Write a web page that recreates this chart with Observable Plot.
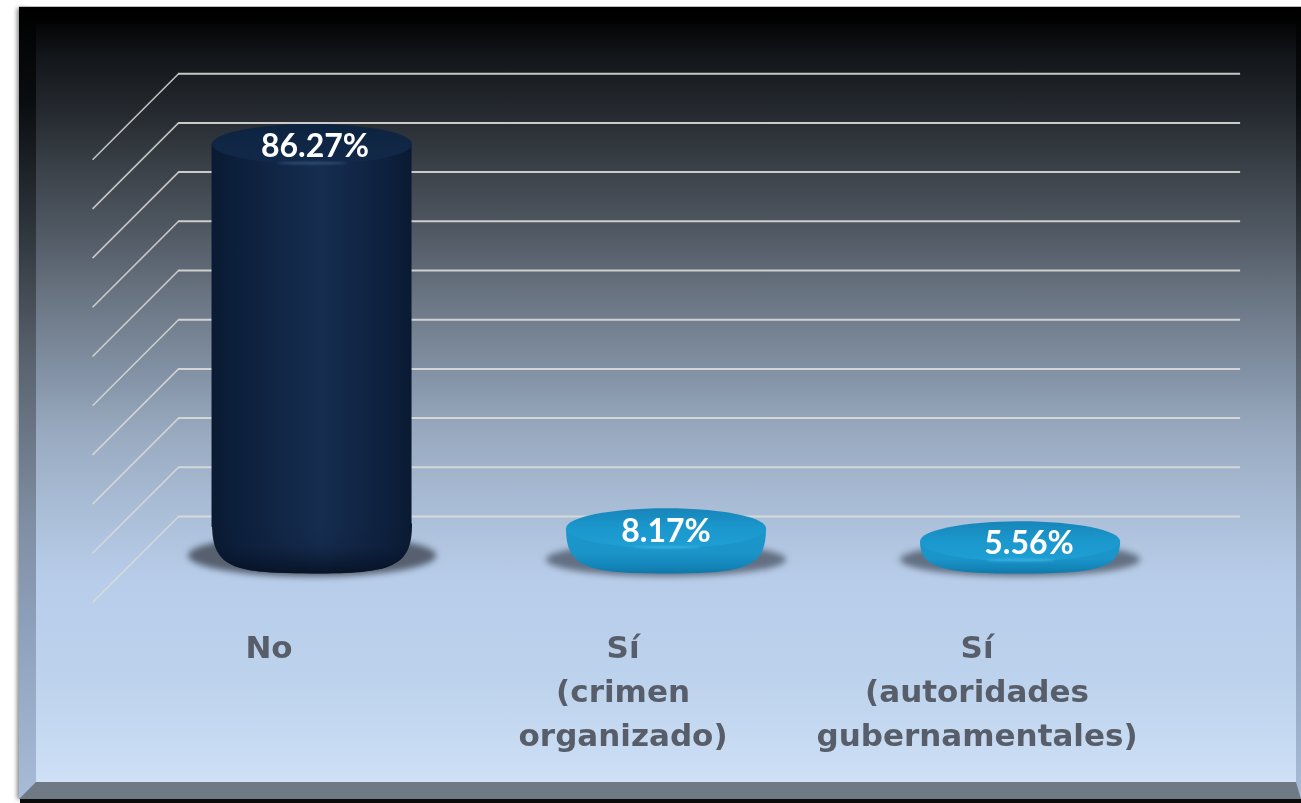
<!DOCTYPE html>
<html lang="es">
<head>
<meta charset="utf-8">
<script src="https://cdn.jsdelivr.net/npm/d3@7"></script>
<script src="https://cdn.jsdelivr.net/npm/@observablehq/plot@0.6"></script>
<style>
html,body{margin:0;padding:0;background:#fff;width:1301px;height:803px;overflow:hidden}
#stage{position:relative;width:1301px;height:803px;overflow:hidden}
#stage svg{position:absolute;left:0;top:0;background:transparent}
.layer{position:absolute}
#shadow{left:17px;top:8px;width:10px;height:791px;background:#888;filter:blur(2px)}
#topline{left:19px;top:6px;width:1282px;height:1px;background:#bdbdbd}
#bevel{left:19px;top:7px;width:1282px;height:792px;
 background:linear-gradient(180deg,#000 0%,#0a0d10 12%,#333a41 30%,#5a6470 45%,#7f8ea2 65%,#8fa3bf 80%,#a8bcd8 100%)}
#panel{left:36px;top:24px;width:1260px;height:758px;
 background:linear-gradient(180deg,#040506 0%,#14181c 4.75%,#282d33 12.7%,#3b4249 19.3%,#505863 27.2%,#6b7684 36.4%,#8190a3 45.6%,#98a9bf 53.6%,#a8bbd4 62.8%,#b8cdea 73.4%,#bdd2ec 86.6%,#cbdef5 98.5%,#d0e1f6 100%)}
#floor{left:19px;top:782px;width:1282px;height:17px;background:#6f7a85;clip-path:polygon(17px 0,1277px 0,1282px 100%,0 100%)}
#strip{left:20px;top:799px;width:1281px;height:4px;background:#0a0a0a}
</style>
</head>
<body>
<div id="stage">
  <div class="layer" id="shadow"></div>
  <div class="layer" id="bevel"></div>
  <div class="layer" id="topline"></div>
  <div class="layer" id="panel"></div>
  <div class="layer" id="floor"></div>
  <div class="layer" id="strip"></div>
</div>
<script>
const categories = ["No", "Sí\n(crimen\norganizado)", "Sí\n(autoridades\ngubernamentales)"];
const values = [86.27, 8.17, 5.56];
const valueLabels = ["86.27%", "8.17%", "5.56%"];
const gridValues = [0, 10, 20, 30, 40, 50, 60, 70, 80, 90];

const rows = categories.map((c, i) => ({i, category: c, value: values[i], label: valueLabels[i]}));
const base = 3.05;        // the floor of the 3-D box, in value units
const back = 10.57;       // rear wall offset of the grid, in value units
const front = -6.91;      // front edge of the side wall, in value units
const halfBar = 0.2825;   // half a cylinder, in category units
const wallX = -0.377, edgeX = -0.62, endX = 2.623;
const pxPerUnit = 4.92;
const bowlTop = 30;       // height of the rounded foot of the tall cylinder

const ellipse = (ratio) => ({
  draw(ctx, size) {
    const rx = Math.sqrt(size / Math.PI), ry = rx * ratio, k = 0.5522848;
    ctx.moveTo(-rx, 0);
    ctx.bezierCurveTo(-rx, -ry * k, -rx * k, -ry, 0, -ry);
    ctx.bezierCurveTo(rx * k, -ry, rx, -ry * k, rx, 0);
    ctx.bezierCurveTo(rx, ry * k, rx * k, ry, 0, ry);
    ctx.bezierCurveTo(-rx * k, ry, -rx, ry * k, -rx, 0);
    ctx.closePath();
  }
});
// rounded foot of a cylinder: vertical sides that turn under into the front rim
const bowl = (ratio, shoulder) => ({
  draw(ctx, size) {
    const rx = Math.sqrt(size / Math.PI), ry = rx * ratio;
    ctx.moveTo(-rx, -shoulder);
    ctx.bezierCurveTo(-rx, ry * 0.7, -rx * 0.8, ry, 0, ry);
    ctx.bezierCurveTo(rx * 0.8, ry, rx, ry * 0.7, rx, -shoulder);
    ctx.closePath();
  }
});

function gradient(defs, id, horizontal, stops) {
  const g = defs.append("svg:linearGradient").attr("id", id)
    .attr("x1", 0).attr("y1", 0).attr("x2", horizontal ? 1 : 0).attr("y2", horizontal ? 0 : 1);
  stops.forEach(([o, c, a = 1]) => g.append("svg:stop").attr("offset", o).attr("stop-color", c).attr("stop-opacity", a));
}
const defsMark = () => {
  const defs = d3.create("svg:defs");
  gradient(defs, "cyl", true, [[0, "#0a1a32"], [0.12, "#0c1f3b"], [0.55, "#162d50"], [0.88, "#0d203d"], [1, "#0a1a32"]]);
  gradient(defs, "cylFoot", false, [[0, "#07132a", 0], [0.45, "#07132a", 0.1], [1, "#060f20", 0.85]]);
  gradient(defs, "cylTop", false, [[0, "#0c2340"], [1, "#12294a"]]);
  gradient(defs, "discFoot", false, [[0, "#1b96cb"], [0.55, "#1a94c9"], [0.85, "#1384b8"], [1, "#0e78a8"]]);
  gradient(defs, "discTop", false, [[0, "#1785b9"], [0.5, "#1b98ce"], [1, "#1f9fd4"]]);
  return defs.node();
};

const cylinders = rows.filter(d => d.i === 0);
const discs = rows.filter(d => d.i !== 0);
const labelDx = [3, 0, 9];

const chart = Plot.plot({
  width: 1301,
  height: 803,
  marginTop: 76,
  marginBottom: 235,
  marginLeft: 0,
  marginRight: 0,
  style: {background: "transparent"},
  x: {type: "linear", domain: [-0.88, 2.795], label: null},
  y: {domain: [0, 100], axis: null},
  marks: [
    defsMark,
    Plot.ruleY(gridValues, {y: d => d + back, x1: wallX, x2: endX, stroke: "#dcdcd8", strokeWidth: 2, strokeOpacity: 0.9}),
    Plot.link(gridValues, {x1: wallX, y1: d => d + back, x2: edgeX, y2: d => d + front, stroke: "#dcdcd8", strokeWidth: 1.6, strokeOpacity: 0.85}),
    // floor shadows
    Plot.dot(cylinders, {x: "i", y: base, dy: 2, r: 124, symbol: ellipse(0.17), fill: "#454e5b", fillOpacity: 0.85, stroke: "none", imageFilter: "blur(3px)"}),
    Plot.dot(discs, {x: "i", y: base, dy: 6, r: 120, symbol: ellipse(0.14), fill: "#4f5a6a", fillOpacity: 0.8, stroke: "none", imageFilter: "blur(3px)"}),
    // tall cylinder: foot, body, darkened foot
    Plot.dot(cylinders, {x: "i", y: base, r: 100, symbol: bowl(0.2, bowlTop), fill: "url(#cyl)", stroke: "none"}),
    Plot.rect(cylinders, {x1: d => d.i - halfBar, x2: d => d.i + halfBar, y1: base + (bowlTop - 4) / pxPerUnit, y2: "value", fill: "url(#cyl)", stroke: "none"}),
    Plot.dot(cylinders, {x: "i", y: base, r: 100, symbol: bowl(0.2, bowlTop), fill: "url(#cylFoot)", stroke: "none"}),
    // discs: the foot spans from the floor to each value
    ...discs.map(d => Plot.dot([d], {
      x: "i", y: base, r: 100,
      symbol: bowl(0.2, (d.value - base) * pxPerUnit),
      fill: "url(#discFoot)", stroke: "none"
    })),
    // cylinder tops
    Plot.dot(cylinders, {x: "i", y: "value", r: 100, symbol: ellipse(0.2), fill: "url(#cylTop)", stroke: "none"}),
    Plot.dot(discs, {x: "i", y: "value", r: 100, symbol: ellipse(0.2), fill: "url(#discTop)", stroke: "none"}),
    // rim highlights
    Plot.dot(cylinders, {x: "i", y: "value", dy: 19, r: 35, symbol: ellipse(0.04), fill: "#3d5f86", fillOpacity: 0.7, stroke: "none", imageFilter: "blur(1px)"}),
    Plot.dot(discs, {x: "i", y: "value", dy: 19, r: 35, symbol: ellipse(0.04), fill: "#58c6ee", fillOpacity: 0.45, stroke: "none", imageFilter: "blur(1px)"}),
    // value labels
    ...rows.map((r, k) => Plot.text([r], {
      x: "i", y: "value", text: "label", dx: labelDx[k], dy: 3,
      fill: "#fff", fontSize: 32, fontWeight: 700, fontFamily: "Lato",
      imageFilter: "blur(0.35px)"
    })),
    Plot.axisX({
      ticks: [0, 1, 2],
      tickFormat: i => categories[i],
      label: null,
      tickSize: 0,
      tickPadding: 58,
      dx: -43,
      lineHeight: 1.42,
      lineAnchor: "top",
      fontSize: 31,
      fontWeight: 700,
      fontFamily: "DejaVu Sans",
      fill: "#575e69",
      stroke: "#575e69",
      strokeWidth: 0.5,
      imageFilter: "blur(0.4px)"
    })
  ]
});
document.getElementById("stage").appendChild(chart);
</script>
</body>
</html>
